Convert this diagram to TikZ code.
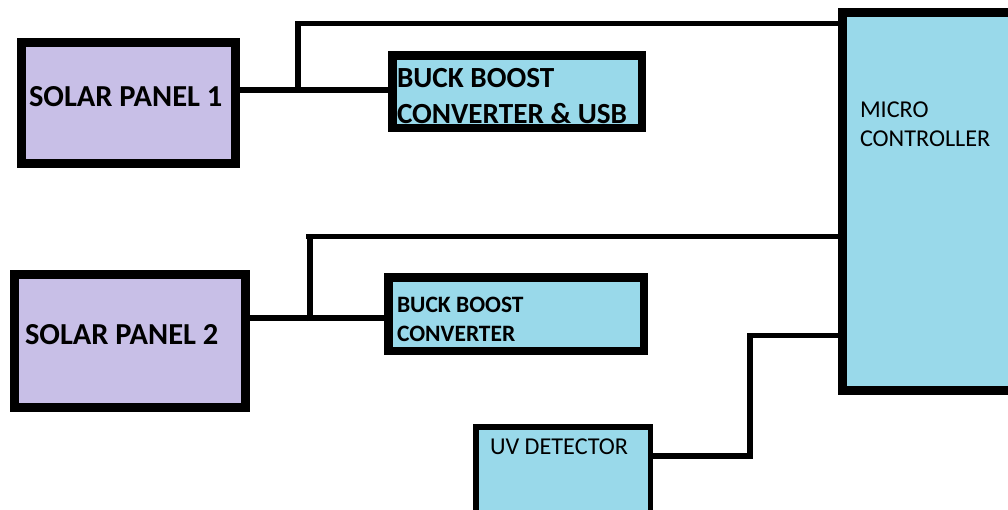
\documentclass[tikz,border=0pt]{standalone}
\usepackage{fontspec}
\setmainfont{Carlito}
\definecolor{lavbg}{HTML}{C8BFE7}
\definecolor{bluebg}{HTML}{99D9EA}
\pgfdeclarelayer{wires}
\pgfsetlayers{wires,main}
\begin{document}
\begin{tikzpicture}[x=1pt,y=-1pt,
  box/.style={draw=black, rectangle, inner sep=0pt, outer sep=0pt},
  panel/.style={box, fill=lavbg, line width=9pt},
  block/.style={box, fill=bluebg, line width=8.5pt},
  thinblock/.style={box, fill=bluebg, line width=5.5pt},
  wire/.style={draw=black, line width=5.5pt, line join=miter},
  txt/.style={anchor=base west, inner sep=0pt, outer sep=0pt, text=black},
  bigb/.style={txt, font=\fontsize{30.5}{36}\selectfont\bfseries},
  midb/.style={txt, font=\fontsize{29.2}{35}\selectfont\bfseries},
  smallb/.style={txt, font=\fontsize{23.5}{29}\selectfont\bfseries},
  smallr/.style={txt, font=\fontsize{24.2}{29}\selectfont}
]
\useasboundingbox (0,0) rectangle (1008,509);
\clip (0,0) rectangle (1008,509);

% boxes
\node[panel, minimum width=214pt, minimum height=121pt] (sp1) at (128.5,103) {};
\node[block, minimum width=249.5pt, minimum height=72.5pt] (bb1) at (517,91.5) {};
\node[block, line width=9pt, minimum width=183pt, minimum height=378pt] (mc) at (934,201.5) {};
\node[panel, minimum width=231pt, minimum height=133pt] (sp2) at (130,341) {};
\node[block, minimum width=255.5pt, minimum height=73.5pt] (bb2) at (516,314) {};
\node[thinblock, minimum width=174.5pt, minimum height=90pt] (uv) at (563,472) {};

% junction coordinates
\coordinate (j1) at (298,90);
\coordinate (t1) at (298,23.5);
\coordinate (j2) at (310,321);
\coordinate (t2) at (310,236.5);
\coordinate (s2) at (306,236.5);
\coordinate (h2) at (310,318);
\coordinate (u1) at (750,456);
\coordinate (u2) at (750,335.5);

% wires, underneath the boxes
\begin{pgfonlayer}{wires}
\draw[wire] (sp1.east |- j1) -- (j1 -| bb1.west);
\draw[wire] (j1) -- (t1) -- (t1 -| mc.west);
\draw[wire] (sp2.east |- h2) -- (h2 -| bb2.west);
\draw[wire] (j2) -- (t2);
\draw[wire] (s2) -- (s2 -| mc.west);
\draw[wire] (uv.east |- u1) -- (u1) -- (u2) -- (u2 -| mc.west);
\end{pgfonlayer}

% texts
\node[bigb] (sp1t) at (29,106) {SOLAR PANEL 1};
\node[midb] (bb1a) at (397,87) {BUCK BOOST};
\node[midb] (bb1b) at (397,123) {CONVERTER \& USB};
\node[smallr] (mca) at (860,117) {MICRO};
\node[smallr] (mcb) at (860,146) {CONTROLLER};
\node[bigb] (sp2t) at (25,344) {SOLAR PANEL 2};
\node[smallb] (bb2a) at (397,312) {BUCK BOOST};
\node[smallb] (bb2b) at (397,341) {CONVERTER};
\node[smallr] (uvt) at (490,454) {UV DETECTOR};
\end{tikzpicture}
\end{document}
